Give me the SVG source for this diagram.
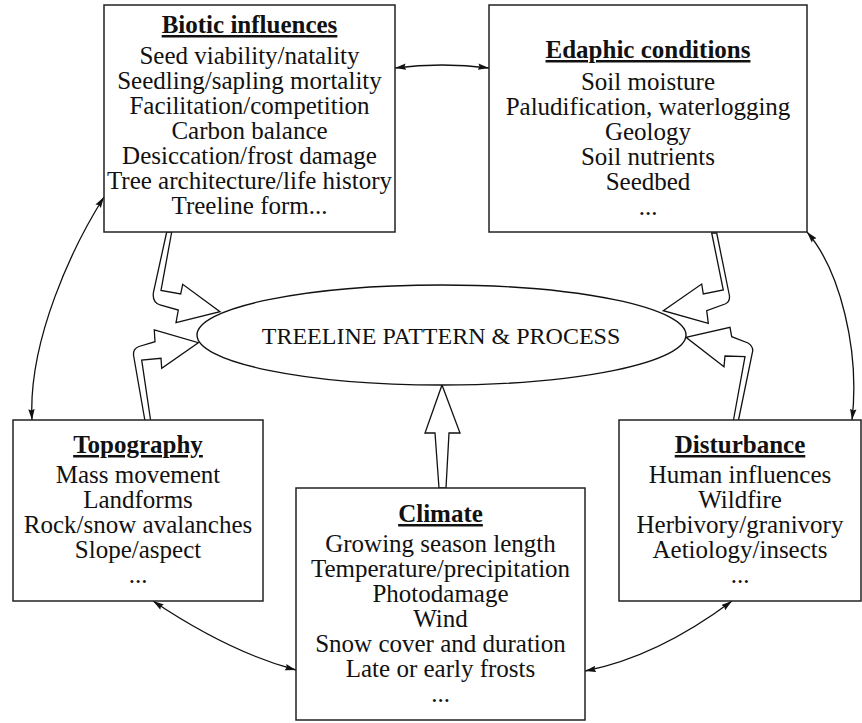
<svg xmlns="http://www.w3.org/2000/svg" width="862" height="723" viewBox="0 0 862 723">
<defs>
<style>
.box{fill:#fff;stroke:#222;stroke-width:1.5}
text{font-family:'Liberation Serif','DejaVu Serif',serif;font-size:25px;fill:#111;text-anchor:middle}
.h{font-weight:bold;text-decoration:underline}
.hollow{fill:#fff;stroke:#111;stroke-width:1.3;stroke-linejoin:miter}
.link{fill:none;stroke:#111;stroke-width:1.3;marker-start:url(#ah);marker-end:url(#ah)}
</style>
<marker id="ah" markerUnits="userSpaceOnUse" markerWidth="12" markerHeight="8" refX="11" refY="4" orient="auto-start-reverse">
<path d="M0,0.8 L11,4 L0,7.2 L1.5,4 Z" fill="#111"/>
</marker>
</defs>
<rect width="862" height="723" fill="#fff"/>

<g id="connectors">
<path class="link" d="M395,68 Q442,62 489,68"/>
<path class="link" d="M104,197 C73,246 28,340 32,420"/>
<path class="link" d="M807,232 C840,270 860,350 852,420"/>
<path class="link" d="M153,601 Q229,652 296,670"/>
<path class="link" d="M585,671 Q657,657 732,601"/>
<path class="hollow" d="M166.7,232 L153.5,292 Q151.8,302 160,305 L178.3,310 L176,322.7 L220,311.7 L182.7,284.3 L180.7,294 L161,290.5 L171.7,232 Z"/>
<path class="hollow" d="M145,421 L133.5,355 Q133,348.5 139,346.5 L155,341.7 L154.3,330 L198.3,342.7 L161.7,368.3 L161,358.3 L141.7,360 L150.7,421 Z"/>
<path class="hollow" d="M711.7,233 L723.3,290 L703.3,294 L701.7,284 L663.3,310.7 L708.3,323.3 L706.7,310.7 L725,304 Q730.5,301.5 729.3,295 L716.7,233 Z"/>
<path class="hollow" d="M733.3,421 L745,356.7 L725,356 L724,366.7 L686,337.3 L730,327.3 L731.7,336.7 L748,343 Q753,346 752.7,351 L738.3,421 Z"/>
<path class="hollow" d="M439,488 L435,433 L425,433 L442,385 L460,433 L449,433 L446,488 Z"/>
</g>

<g id="center">
<ellipse cx="441.5" cy="335" rx="244.5" ry="50" fill="#fff" stroke="#111" stroke-width="1.4"/>
<text x="441" y="344" style="font-size:24px">TREELINE PATTERN &amp; PROCESS</text>
</g>

<g id="biotic">
<rect class="box" x="104" y="5" width="291" height="227"/>
<text class="h" x="249.5" y="33">Biotic influences</text>
<text x="249.5" y="64">Seed viability/natality</text>
<text x="249.5" y="89">Seedling/sapling mortality</text>
<text x="249.5" y="114">Facilitation/competition</text>
<text x="249.5" y="139">Carbon balance</text>
<text x="249.5" y="164">Desiccation/frost damage</text>
<text x="249.5" y="189">Tree architecture/life history</text>
<text x="249.5" y="214">Treeline form...</text>
</g>

<g id="edaphic">
<rect class="box" x="489" y="5" width="318" height="227"/>
<text class="h" x="648" y="58">Edaphic conditions</text>
<text x="648" y="90">Soil moisture</text>
<text x="648" y="115">Paludification, waterlogging</text>
<text x="648" y="140">Geology</text>
<text x="648" y="165">Soil nutrients</text>
<text x="648" y="190">Seedbed</text>
<text x="648" y="215">...</text>
</g>

<g id="topography">
<rect class="box" x="13" y="420" width="250" height="181"/>
<text class="h" x="138" y="453">Topography</text>
<text x="138" y="483">Mass movement</text>
<text x="138" y="508">Landforms</text>
<text x="138" y="533">Rock/snow avalanches</text>
<text x="138" y="558">Slope/aspect</text>
<text x="138" y="583">...</text>
</g>

<g id="climate">
<rect class="box" x="296" y="488" width="289" height="232"/>
<text class="h" x="440.5" y="522">Climate</text>
<text x="440.5" y="552">Growing season length</text>
<text x="440.5" y="577">Temperature/precipitation</text>
<text x="440.5" y="602">Photodamage</text>
<text x="440.5" y="627">Wind</text>
<text x="440.5" y="652">Snow cover and duration</text>
<text x="440.5" y="677">Late or early frosts</text>
<text x="440.5" y="702">...</text>
</g>

<g id="disturbance">
<rect class="box" x="619" y="420" width="242" height="181"/>
<text class="h" x="740" y="453">Disturbance</text>
<text x="740" y="483">Human influences</text>
<text x="740" y="508">Wildfire</text>
<text x="740" y="533">Herbivory/granivory</text>
<text x="740" y="558">Aetiology/insects</text>
<text x="740" y="583">...</text>
</g>
</svg>
